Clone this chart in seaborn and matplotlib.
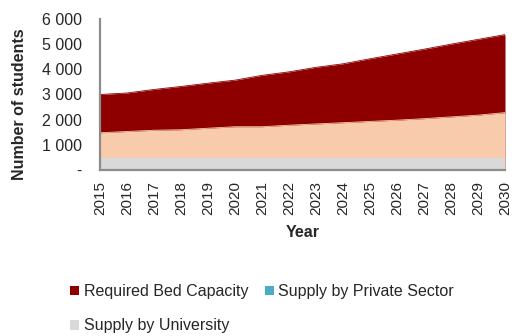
import matplotlib
matplotlib.use("Agg")
import matplotlib.pyplot as plt
import seaborn as sns
import pandas as pd
from matplotlib.patches import Patch
from matplotlib.ticker import FuncFormatter

years = list(range(2015, 2031))
required = [3000, 3060, 3200, 3320, 3450, 3570, 3760, 3900, 4080, 4220, 4420, 4610, 4800, 5000, 5190, 5380]
private = [1480, 1530, 1580, 1600, 1660, 1720, 1720, 1780, 1830, 1880, 1930, 1980, 2040, 2110, 2180, 2280]
university = [480] * 16

series_names = ["Required Bed Capacity", "Supply by Private Sector", "Supply by University"]
area_colors = ["#8E0000", "#F8CBAD", "#D9D9D9"]
legend_colors = ["#8E0000", "#4BACC6", "#D9D9D9"]

df = pd.DataFrame({"Year": years, series_names[0]: required,
                   series_names[1]: private, series_names[2]: university})

sns.set_theme(style="white")
plt.rcParams["font.family"] = ["Liberation Sans", "DejaVu Sans"]

fig = plt.figure(figsize=(5.15, 3.36), dpi=100)
ax = fig.add_axes([100/515, 1 - 170/336, 405/515, 151/336])

for name, col in zip(series_names, area_colors):
    ax.fill_between(df["Year"], 0, df[name], color=col, linewidth=0)
    sns.lineplot(data=df, x="Year", y=name, ax=ax, color=col, linewidth=0.6)

ax.set_xlim(2015, 2030)
ax.set_ylim(0, 6000)
ax.set_xticks(years)
ax.set_xticklabels([str(y) for y in years], rotation=90, fontsize=11)
ax.set_yticks(range(0, 6001, 1000))
ax.yaxis.set_major_formatter(FuncFormatter(lambda v, p: "-" if v == 0 else f"{int(v):,}".replace(",", " ")))
ax.tick_params(axis="y", labelsize=11.5, pad=13, length=0)
ax.tick_params(axis="x", pad=8, length=0)

ax.set_xlabel("Year", fontsize=11.5, fontweight="bold", labelpad=7)
ax.set_ylabel("Number of students", fontsize=11.5, fontweight="bold")
ax.yaxis.set_label_coords(-0.18, 0.437)

for s in ["top", "right"]:
    ax.spines[s].set_visible(False)
for s in ["left", "bottom"]:
    ax.spines[s].set_color("#8C8C8C")
    ax.spines[s].set_linewidth(1.6)

# column-wise fill: col1 = Required, University ; col2 = Private
order = [0, 2, 1]
handles = [Patch(facecolor=legend_colors[i], edgecolor="none") for i in order]
labels = [series_names[i] for i in order]
fig.legend(handles, labels, loc="upper left", bbox_to_anchor=(70/515, 1 - 284/336),
           ncol=2, frameon=False, fontsize=11.5, handlelength=0.55, handleheight=0.55,
           handletextpad=0.3, columnspacing=1.05, labelspacing=1.22, borderpad=0,
           borderaxespad=0)

fig.savefig("out.png", dpi=100)
